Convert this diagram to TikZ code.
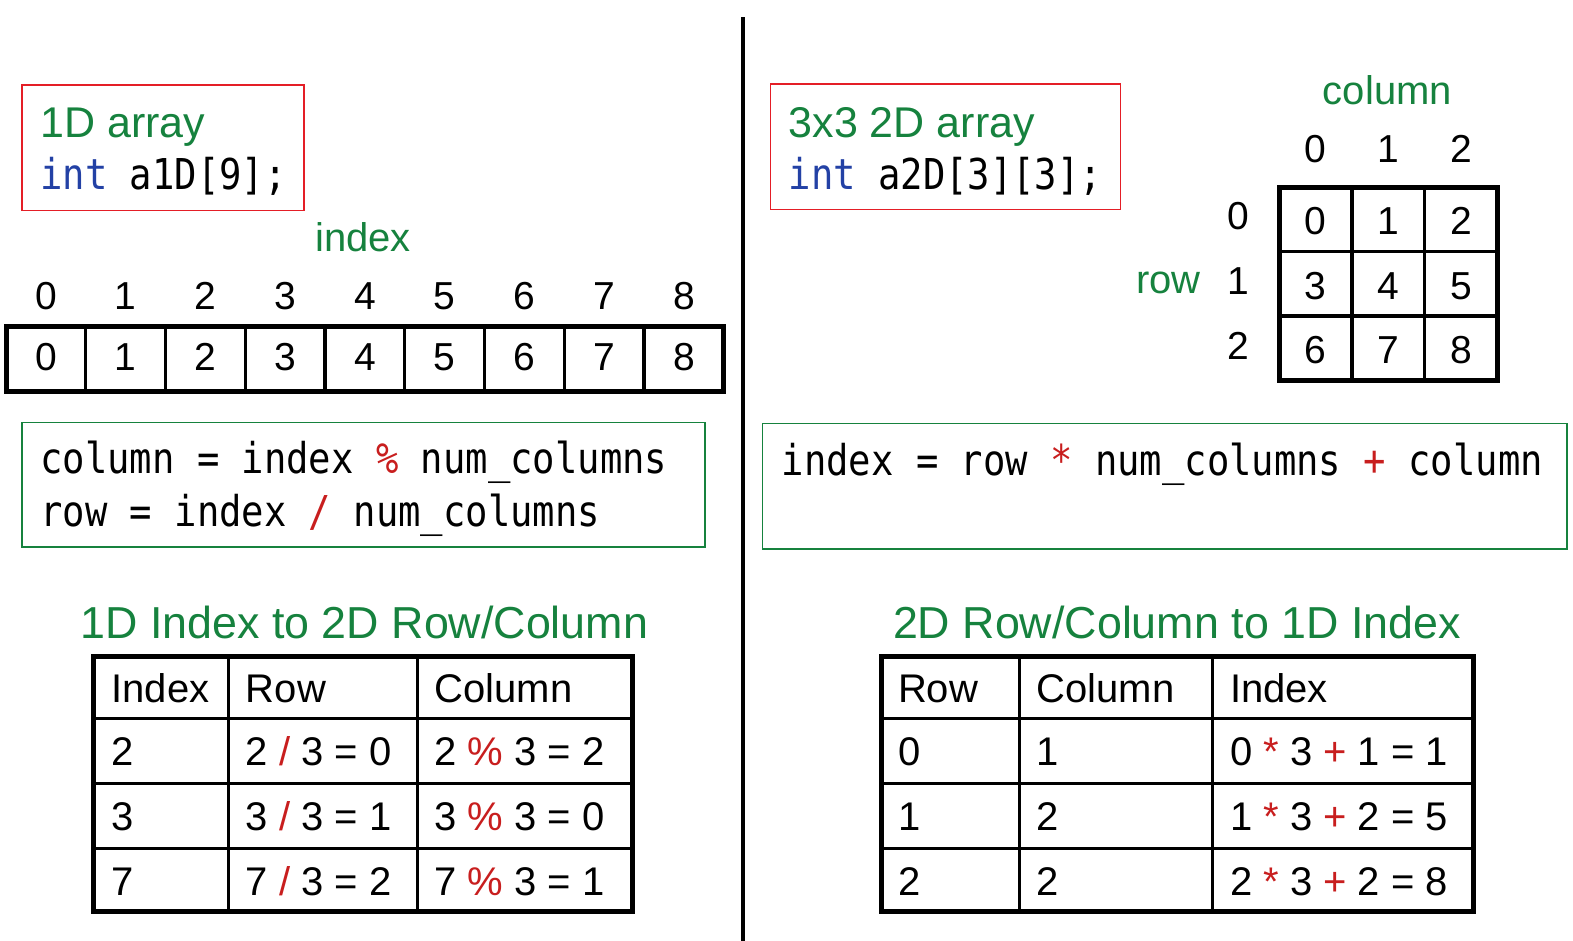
\documentclass[tikz,border=0pt]{standalone}
\usepackage{fontspec}
\setmainfont{Liberation Sans}
\newfontfamily\codefont[FakeStretch=0.875]{DejaVu Sans Mono}
\definecolor{tgreen}{RGB}{22,130,62}
\definecolor{opred}{RGB}{200,30,30}
\definecolor{boxred}{RGB}{228,30,38}
\definecolor{kwblue}{RGB}{35,65,165}
\newcommand{\op}[1]{\textcolor{opred}{#1}}
\begin{document}
\begin{tikzpicture}[x=1.0032pt,y=-1.0032pt,
  txt/.style={inner sep=0pt,anchor=base west,font=\fontsize{40}{48}\selectfont},
  gtxt/.style={txt,text=tgreen,font=\fontsize{43}{50}\selectfont},
  ttl/.style={txt,text=tgreen,font=\fontsize{44.8}{50}\selectfont},
  num/.style={inner sep=0pt,anchor=base,font=\fontsize{39}{46}\selectfont},
  code/.style={inner sep=0pt,anchor=base west,font=\codefont\fontsize{42.5}{50}\selectfont},
  redbox/.style={draw=boxred,line width=1.6pt},
  greenbox/.style={draw=tgreen,line width=1.6pt},
  frame/.style={draw=black,line width=5pt},
  grid/.style={draw=black,line width=3.2pt}]
\useasboundingbox (0,0) rectangle (1568,938);

% divider
\coordinate (dtop) at (741,17);
\coordinate (dbot) at (741,938);
\draw[line width=4pt] (dtop) -- (dbot);

% ---------- left ----------
\draw[redbox] (22,85) rectangle (303,210);
\node[gtxt] (t1d) at (40,137) {1D array};
\node[code] (c1d) at (40,189) {\textcolor{kwblue}{int} a1D[9];};

\node[gtxt,anchor=base,font=\fontsize{40}{46}\selectfont] (idx) at (362,251) {index};
\foreach \i in {0,...,8} {
  \node[num] (top\i) at ({6+79.5*(\i+0.5)},309) {\i};
  \node[num] (cell\i) at ({6+79.5*(\i+0.5)},369) {\i};
}
\foreach \i in {1,...,8} \draw[grid] ({6+79.5*\i},325) -- ({6+79.5*\i},390);
\draw[frame] (6,325) rectangle (721.5,390);

\draw[greenbox] (22,421) rectangle (703,545);
\node[code] (cl1) at (40,472) {column = index \op{\%} num\_columns};
\node[code] (cl2) at (40,525) {row = index \op{/} num\_columns};

\node[ttl] (ttlL) at (80,636) {1D Index to 2D Row/Column};
\draw[grid] (93,716) -- (630,716);
\draw[grid] (93,781) -- (630,781);
\draw[grid] (93,846) -- (630,846);
\draw[grid] (228,654) -- (228,909);
\draw[grid] (416,654) -- (416,909);
\draw[frame] (93,654) rectangle (630,909);
\node[txt] (lh1) at (111,700) {Index};
\node[txt] (lh2) at (245,700) {Row};
\node[txt] (lh3) at (433,700) {Column};
\node[txt] (la1) at (111,763) {2};
\node[txt] (la2) at (245,763) {2 \op{/} 3 = 0};
\node[txt] (la3) at (433,763) {2 \op{\%} 3 = 2};
\node[txt] (lb1) at (111,828) {3};
\node[txt] (lb2) at (245,828) {3 \op{/} 3 = 1};
\node[txt] (lb3) at (433,828) {3 \op{\%} 3 = 0};
\node[txt] (lc1) at (111,893) {7};
\node[txt] (lc2) at (245,893) {7 \op{/} 3 = 2};
\node[txt] (lc3) at (433,893) {7 \op{\%} 3 = 1};

% ---------- right ----------
\draw[redbox] (768,84) rectangle (1117,209);
\node[gtxt] (t2d) at (786,137) {3x3 2D array};
\node[code] (c2d) at (786,189) {\textcolor{kwblue}{int} a2D[3][3];};

\node[gtxt,anchor=base,font=\fontsize{40}{46}\selectfont] (colw) at (1383,104) {column};
\node[gtxt,anchor=base east,font=\fontsize{40}{46}\selectfont] (roww) at (1197,293) {row};
\foreach \c in {0,1,2} {
  \node[num] (ci\c) at ({1275+72.67*(\c+0.5)},162) {\c};
  \node[num] (ri\c) at (1234,{229+64.5*\c}) {\c};
}
\foreach \r in {0,1,2} \foreach \c in {0,1,2} {
  \pgfmathtruncatemacro{\v}{3*\r+\c}
  \node[num] (g\r\c) at ({1275+72.67*(\c+0.5)},{234+64.3*\r}) {\v};
}
\draw[grid] (1347.7,187) -- (1347.7,379);
\draw[grid] (1420.3,187) -- (1420.3,379);
\draw[grid] (1275,251) -- (1493,251);
\draw[grid] (1275,315) -- (1493,315);
\draw[frame] (1275,187) rectangle (1493,379);

\draw[greenbox] (760,422) rectangle (1562,547);
\node[code] (cr1) at (779,474) {index = row \op{*} num\_columns \op{+} column};

\node[ttl] (ttlR) at (890,636) {2D Row/Column to 1D Index};
\draw[grid] (879,716) -- (1469,716);
\draw[grid] (879,781) -- (1469,781);
\draw[grid] (879,846) -- (1469,846);
\draw[grid] (1016,654) -- (1016,909);
\draw[grid] (1209,654) -- (1209,909);
\draw[frame] (879,654) rectangle (1469,909);
\node[txt] (rh1) at (895,700) {Row};
\node[txt] (rh2) at (1033,700) {Column};
\node[txt] (rh3) at (1226,700) {Index};
\node[txt] (ra1) at (895,763) {0};
\node[txt] (ra2) at (1033,763) {1};
\node[txt] (ra3) at (1226,763) {0 \op{*} 3 \op{+} 1 = 1};
\node[txt] (rb1) at (895,828) {1};
\node[txt] (rb2) at (1033,828) {2};
\node[txt] (rb3) at (1226,828) {1 \op{*} 3 \op{+} 2 = 5};
\node[txt] (rc1) at (895,893) {2};
\node[txt] (rc2) at (1033,893) {2};
\node[txt] (rc3) at (1226,893) {2 \op{*} 3 \op{+} 2 = 8};
\end{tikzpicture}
\end{document}
